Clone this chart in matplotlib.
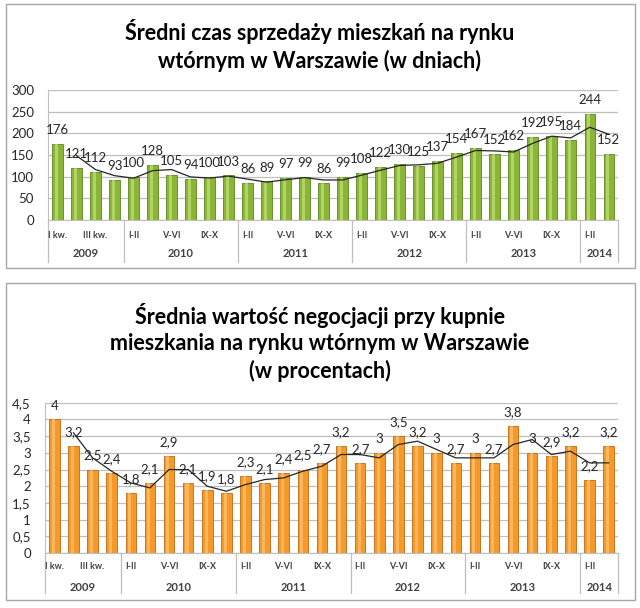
import numpy as np
import matplotlib.pyplot as plt
from matplotlib.patches import Rectangle

plt.rcParams['font.family'] = ['Lato', 'DejaVu Sans']

# periods: 2009 by quarter, 2010-2013 by two months, 2014 two periods
years = ['2009', '2010', '2011', '2012', '2013', '2014']
year_sizes = [4, 6, 6, 6, 6, 2]
cat_labels = ['I kw.', '', 'III kw.', '',
              'I-II', '', 'V-VI', '', 'IX-X', '',
              'I-II', '', 'V-VI', '', 'IX-X', '',
              'I-II', '', 'V-VI', '', 'IX-X', '',
              'I-II', '', 'V-VI', '', 'IX-X', '',
              'I-II', '']

days = [176, 121, 112, 93,
        100, 128, 105, 94, 100, 103,
        86, 89, 97, 99, 86, 99,
        108, 122, 130, 125, 137, 154,
        167, 152, 162, 192, 195, 184,
        244, 152]
# 2-period moving average trend (Excel trendline), starts at 2nd period
days_trend = [148.5, 116.5, 102.5, 96.5, 114, 116.5, 99.5, 97, 101.5, 94.5,
              87.5, 93, 98, 92.5, 92.5, 103.5, 115, 126, 127.5, 131,
              145.5, 160.5, 159.5, 157, 177, 193.5, 189.5, 214, 198]

nego = [4, 3.2, 2.5, 2.4,
        1.8, 2.1, 2.9, 2.1, 1.9, 1.8,
        2.3, 2.1, 2.4, 2.5, 2.7, 3.2,
        2.7, 3, 3.5, 3.2, 3, 2.7,
        3, 2.7, 3.8, 3, 2.9, 3.2,
        2.2, 3.2]
nego_trend = [3.6, 2.85, 2.45, 2.1, 1.95, 2.5, 2.5, 2.0, 1.85, 2.05,
              2.2, 2.25, 2.45, 2.6, 2.95, 2.95, 2.85, 3.25, 3.35, 3.1,
              2.85, 2.85, 2.85, 3.25, 3.4, 2.95, 3.05, 2.7, 2.7]


def fmt_pl(v):
    s = ('%g' % v)
    return s.replace('.', ',')


def draw_panel(ax, vals, trend, color, dark, light, yticks, lab_y, year_y, sep_y):
    x = np.arange(len(vals))
    ax.bar(x, vals, width=0.55, color=color, edgecolor=dark, linewidth=0.6, zorder=2)
    ax.bar(x - 0.06, vals, width=0.16, color=light, linewidth=0, alpha=0.55, zorder=3)
    ax.plot(x[1:], trend, color='#262626', lw=0.9, zorder=4)
    for xi, v in zip(x, vals):
        ax.annotate(fmt_pl(v), (xi, v), xytext=(0, 10), textcoords='offset points',
                    ha='center', va='center', fontsize=9.5, color='#262626', zorder=5)
    ax.set_xlim(-0.5, len(vals) - 0.5)
    ax.set_ylim(yticks[0], yticks[-1])
    ax.set_yticks(yticks)
    ax.set_yticklabels([fmt_pl(t) for t in yticks], fontsize=9.5, color='#262626')
    ax.tick_params(axis='y', length=0, pad=10)
    ax.set_xticks([])
    ax.grid(axis='y', color='#BFBFBF', lw=0.9, zorder=0)
    ax.set_axisbelow(True)
    for s in ['top', 'right']:
        ax.spines[s].set_visible(False)
    ax.spines['left'].set_color('#BFBFBF')
    ax.spines['bottom'].set_color('#BFBFBF')
    tr = ax.get_xaxis_transform()
    for xi, lab in enumerate(cat_labels):
        if lab:
            ax.text(xi, lab_y, lab, transform=tr, ha='center', va='center',
                    fontsize=6.5, fontweight='bold', color='#404040')
    start = 0
    edges = [-0.5]
    for yr, n in zip(years, year_sizes):
        ax.text(start + (n - 1) / 2, year_y, yr, transform=tr, ha='center', va='center',
                fontsize=8, fontweight='bold', color='#404040')
        start += n
        edges.append(start - 0.5)
    for e in edges:
        ax.plot([e, e], [0, sep_y], transform=tr, color='#BFBFBF', lw=0.9, clip_on=False)


fig = plt.figure(figsize=(6.4, 6.08), dpi=100)

# panel frames
fig.patches.append(Rectangle((0.0094, 0.559), 0.983, 0.434, transform=fig.transFigure,
                             fill=False, edgecolor='#A6A6A6', lw=1.0))
fig.patches.append(Rectangle((0.0094, 0.013), 0.983, 0.522, transform=fig.transFigure,
                             fill=False, edgecolor='#A6A6A6', lw=1.0))

ax1 = fig.add_axes([0.075, 0.638, 0.891, 0.214])
draw_panel(ax1, days, days_trend, '#8AB536', '#5E8620', '#D4EE8A',
           [0, 50, 100, 150, 200, 250, 300], -0.115, -0.254, -0.323)

ax2 = fig.add_axes([0.070, 0.0905, 0.896, 0.247])
draw_panel(ax2, nego, nego_trend, '#F5992A', '#C06A10', '#FFD08A',
           [0, 0.5, 1, 1.5, 2, 2.5, 3, 3.5, 4, 4.5], -0.093, -0.233, -0.267)

fig.text(0.5, 0.925, 'Średni czas sprzedaży mieszkań na rynku\nwtórnym w Warszawie (w dniach)',
         ha='center', va='center', fontsize=15.5, fontweight='bold', linespacing=1.35)
fig.text(0.5, 0.437, 'Średnia wartość negocjacji przy kupnie\nmieszkania na rynku wtórnym w Warszawie\n(w procentach)',
         ha='center', va='center', fontsize=15.5, fontweight='bold', linespacing=1.3)

fig.savefig('out.png', dpi=100)
